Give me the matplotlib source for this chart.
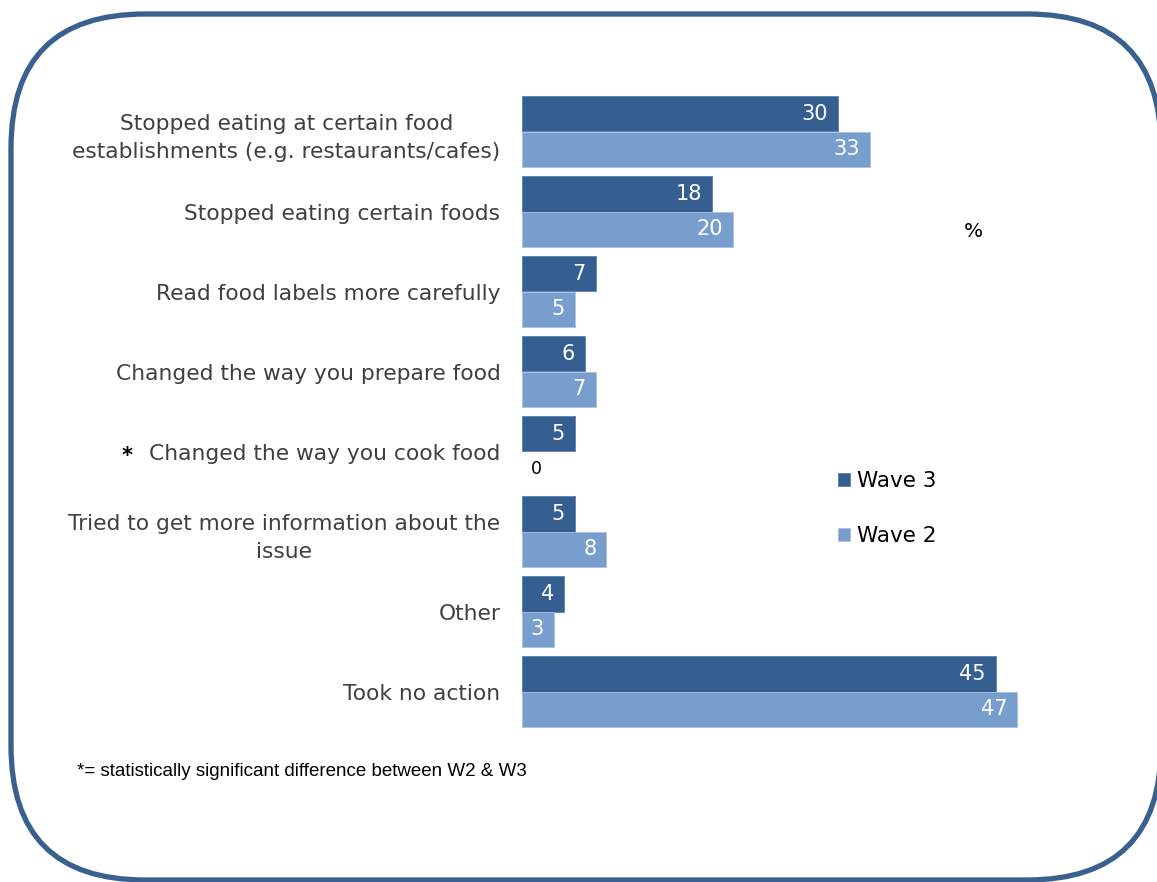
import numpy as np
import matplotlib.pyplot as plt
from matplotlib.patches import FancyBboxPatch
from matplotlib.transforms import IdentityTransform

# data (%)
categories = [
    "Stopped eating at certain food\nestablishments (e.g. restaurants/cafes)",
    "Stopped eating certain foods",
    "Read food labels more carefully",
    "Changed the way you prepare food",
    "Changed the way you cook food",
    "Tried to get more information about the\nissue",
    "Other",
    "Took no action",
]
wave3 = [30, 18, 7, 6, 5, 5, 4, 45]
wave2 = [33, 20, 5, 7, 0, 8, 3, 47]
significant = [False, False, False, False, True, False, False, False]

dark = "#365F91"
light = "#789ECD"

W, H, DPI = 1157, 882, 100
fig = plt.figure(figsize=(W / DPI, H / DPI), dpi=DPI)

# axes placed so x=0 sits at px 522 and groups are 80px apart
ax = fig.add_axes([522 / W, (H - 731.5) / H, 632 / W, 640 / H])
ax.patch.set_visible(False)
y = np.arange(len(categories))
bh = 0.445
b3 = ax.barh(y - bh / 2, wave3, height=bh, color=dark, edgecolor="#5a7fae", linewidth=0.6, label="Wave 3")
b2 = ax.barh(y + bh / 2, wave2, height=bh, color=light, edgecolor="#a9c2e2", linewidth=0.6, label="Wave 2")
ax.set_xlim(0, 60)
ax.set_ylim(len(categories) - 0.5, -0.5)

for bars in (b3, b2):
    for rect in bars:
        v = rect.get_width()
        yc = rect.get_y() + rect.get_height() / 2
        if v > 0:
            ax.annotate(f"{v:g}", (v, yc), xytext=(-10, 0), textcoords="offset pixels",
                        ha="right", va="center", color="white", fontsize=15)
        else:
            rect.set_linewidth(0)
            ax.annotate(f"{v:g}", (v, yc), xytext=(9, 0), textcoords="offset pixels",
                        ha="left", va="center", color="black", fontsize=12.5)

ax.set_yticks(y)
ax.set_yticklabels(categories, fontsize=15.7, color="#404040", multialignment="center", linespacing=1.5)
ax.tick_params(axis="y", length=0, pad=15.5)
ax.set_xticks([])
for s in ax.spines.values():
    s.set_visible(False)

# asterisk for significant difference
for i, sig in enumerate(significant):
    if sig:
        ax.annotate("*", (0, i), xycoords=("axes fraction", "data"), xytext=(-395, -5),
                    textcoords="offset pixels", ha="center", va="center",
                    fontsize=15, fontweight="bold", color="black")

fig.text(973 / W, 1 - 232 / H, "%", ha="center", va="center", fontsize=14.5, color="black")

leg = ax.legend(loc="upper left", bbox_to_anchor=(819 / W, 1 - 452 / H), bbox_transform=fig.transFigure,
                frameon=False, fontsize=15.5, handlelength=0.55, handleheight=0.55, handletextpad=0.3,
                labelspacing=1.6)
for t in leg.get_texts():
    t.set_color("black")

fig.text(77 / W, 1 - 772 / H, "*= statistically significant difference between W2 & W3",
         ha="left", va="center", fontsize=13.5, family="Liberation Sans", color="black")

# rounded frame, right edge runs just past the canvas; white fill keeps agg
# from clipping the curved corners
frame = FancyBboxPatch((11, 2), 1150, 866, boxstyle="round,pad=0,rounding_size=134",
                       transform=IdentityTransform(), facecolor="white", edgecolor="#3A6090",
                       linewidth=3.8, clip_on=False, zorder=-5)
fig.add_artist(frame)

fig.savefig("out.png", dpi=DPI)
